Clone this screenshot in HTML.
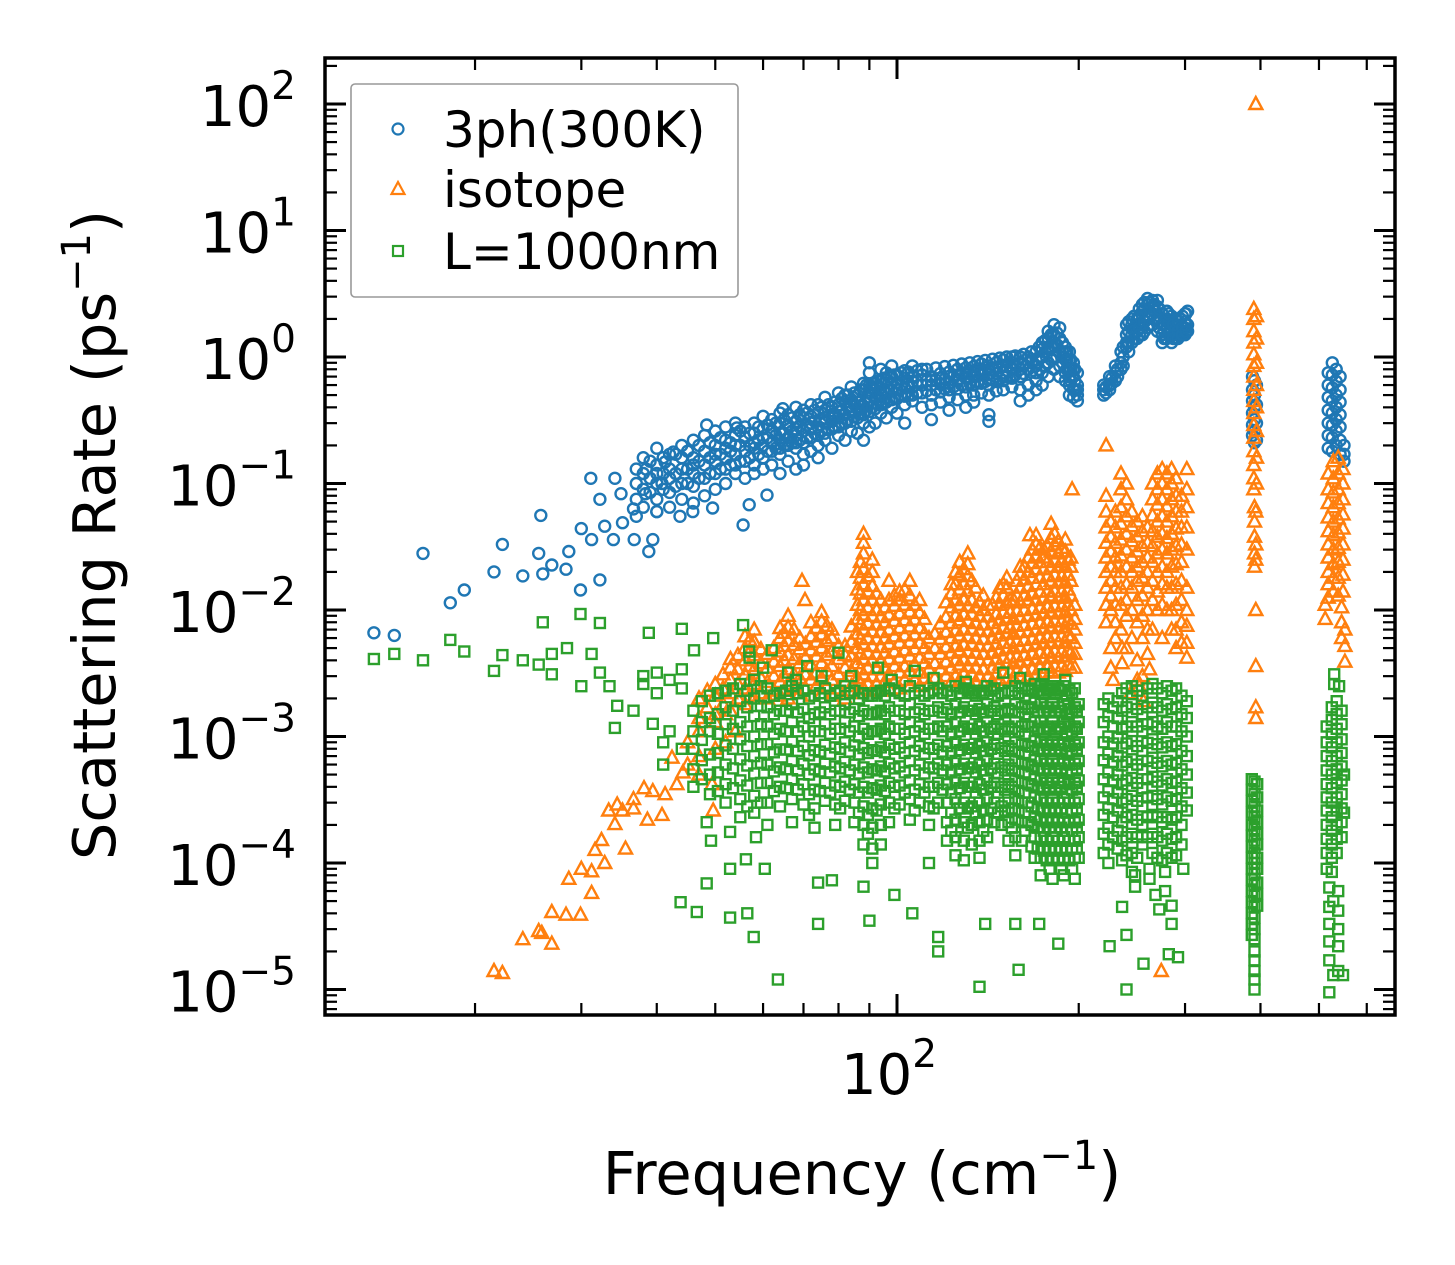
<!DOCTYPE html>
<html><head><meta charset="utf-8"><style>
html,body{margin:0;padding:0;background:#fff;}
svg{display:block;font-family:"DejaVu Sans","Liberation Sans",sans-serif;}
</style></head><body>
<svg id="chart" xmlns="http://www.w3.org/2000/svg" width="1455" height="1265" viewBox="0 0 1455 1265">
<rect width="1455" height="1265" fill="#fff"/>
<g id="marks"></g>
<g id="axes"></g>
<g id="legend">
<rect x="351" y="84" width="387" height="213" rx="4" fill="#fff" fill-opacity="0.8" stroke="#999" stroke-width="1.6"/>
<circle cx="398" cy="129" r="5.5" fill="none" stroke="#1f77b4" stroke-width="2.2"/>
<text x="443" y="147" font-size="50">3ph(300K)</text>
<polygon points="398,182 391.5,194 404.5,194" fill="none" stroke="#ff7f0e" stroke-width="2.2"/>
<text x="443" y="207" font-size="50">isotope</text>
<rect x="393" y="246" width="10" height="10" fill="none" stroke="#2ca02c" stroke-width="2.2"/>
<text x="443" y="269" font-size="50">L=1000nm</text>
</g>
<text x="862" y="1194" font-size="59" text-anchor="middle">Frequency (cm<tspan dy="-25" font-size="40">−1</tspan><tspan dy="25">)</tspan></text>
<text transform="translate(115,535) rotate(-90)" font-size="59" text-anchor="middle">Scattering Rate (ps<tspan dy="-25" font-size="40">−1</tspan><tspan dy="25">)</tspan></text>
</svg>
<script>
// ---- data (frequency cm^-1, then rates ps^-1) ----
const phSparse=[[13.6,6.6e-3],[14.7,6.3e-3],[16.4,2.8e-2],[18.2,1.14e-2],[19.2,1.44e-2],[21.5,2.0e-2],[22.2,3.3e-2],[24.0,1.86e-2],[25.5,2.8e-2],[25.7,5.6e-2],[25.9,1.93e-2],[26.8,2.27e-2],[28.3,2.1e-2],[28.6,2.9e-2],[29.9,1.44e-2],[30.0,4.4e-2],[31.1,0.11],[31.2,3.6e-2],[32.2,1.73e-2,7.5e-2],[32.8,4.6e-2],[33.9,3.6e-2],[34.1,0.11],[34.9,8.3e-2],[35.1,4.9e-2],[36.7,3.6e-2],[36.6,6.3e-2],[38.4,0.13],[38.8,2.9e-2],[39.4,3.6e-2],[38.3,8.3e-2],[40.0,6e-2],[40.8,0.1],[41.3,0.148],[42.6,0.177],[43.7,5.5e-2],[45.9,6e-2],[48.4,0.29],[49.5,6.4e-2],[54.3,0.275],[55.6,4.7e-2],[56.9,6.8e-2],[60.9,8.1e-2],[64.7,0.39]];
const phBand=[[37,0.1,0.075,0.13,0.055],[38,0.12,0.09,0.16,0.065],[40,0.1,0.14,0.075,0.19,0.12,0.06],[42,0.11,0.17,0.085,0.13,0.065],[44,0.13,0.1,0.2,0.16,0.075],[46,0.12,0.16,0.095,0.22,0.14,0.07],[48,0.14,0.18,0.11,0.24,0.08],[50,0.15,0.2,0.12,0.26,0.17,0.09],[52,0.16,0.13,0.22,0.19,0.1,0.28],[54,0.17,0.14,0.24,0.2,0.12,0.3],[56,0.18,0.15,0.23,0.28,0.11],[58,0.19,0.25,0.14,0.21,0.3,0.12],[60,0.2,0.16,0.27,0.23,0.13,0.34],[62,0.21,0.18,0.26,0.32,0.14],[64,0.22,0.3,0.17,0.25,0.19,0.12,0.36],[66,0.23,0.2,0.29,0.35,0.15],[68,0.24,0.31,0.19,0.27,0.21,0.13,0.4],[70,0.26,0.21,0.33,0.38,0.17,0.14],[72,0.27,0.23,0.34,0.3,0.18,0.42],[74,0.28,0.24,0.36,0.42,0.2,0.16],[76,0.3,0.25,0.38,0.22,0.33,0.48],[78,0.31,0.27,0.4,0.35,0.19],[80,0.33,0.28,0.42,0.37,0.24,0.52],[82,0.35,0.3,0.44,0.5,0.22],[84,0.37,0.31,0.46,0.26,0.41,0.58],[86,0.39,0.33,0.5,0.44,0.25],[88,0.41,0.35,0.55,0.3,0.62,0.22],[90,0.45,0.37,0.6,0.9,0.52,0.28,0.75],[92,0.47,0.39,0.62,0.55,0.3],[94,0.5,0.42,0.64,0.36,0.57,0.8],[96,0.52,0.44,0.66,0.75,0.33],[98,0.54,0.46,0.7,0.4,0.62,0.85],[100,0.55,0.47,0.72,0.63,0.36],[103,0.57,0.49,0.68,0.78,0.42,0.3],[106,0.58,0.5,0.7,0.45,0.64,0.85],[110,0.6,0.52,0.72,0.8,0.4],[114,0.6,0.5,0.7,0.42,0.65,0.32],[118,0.61,0.53,0.74,0.68,0.44],[122,0.62,0.55,0.76,0.48,0.7,0.38],[126,0.65,0.56,0.8,0.72,0.46],[130,0.68,0.58,0.82,0.75,0.5,0.4],[134,0.7,0.6,0.84,0.5,0.77,0.44],[138,0.72,0.62,0.88,0.8,0.52],[142,0.73,0.6,0.85,0.31,0.35,0.66,0.5],[146,0.74,0.64,0.9,0.82,0.54],[150,0.75,0.65,0.95,0.7,0.86,0.55],[155,0.8,0.68,1.0,0.9,0.58],[160,0.7,0.55,0.9,0.45,0.8,1.0],[165,0.8,0.6,1.0,0.9,0.5],[170,0.85,0.65,1.1,0.75,0.95,0.55],[174,1.0,0.75,1.3,0.6,1.15],[178,1.2,0.9,1.6,0.7,1.4],[182,1.3,1.0,1.8,0.8,1.5],[186,1.1,0.85,1.4,0.7,1.7],[190,0.95,0.75,1.2,0.65,1.1],[193,0.8,0.7,1.1,0.6,0.95,0.5],[196,0.7,0.55,0.9,0.8,0.48],[199,0.6,0.5,0.75,0.45,0.55]];
const phBand2=[[39,0.11,0.085,0.15],[41,0.12,0.09,0.16],[43,0.12,0.095,0.17],[45,0.13,0.1,0.18],[47,0.15,0.11,0.2],[49,0.16,0.12,0.21],[51,0.17,0.13,0.23],[53,0.18,0.14,0.21],[55,0.2,0.15,0.26],[57,0.2,0.16,0.25],[59,0.22,0.17,0.28],[61,0.23,0.18,0.29],[63,0.24,0.19,0.3],[65,0.25,0.2,0.32],[67,0.26,0.21,0.33],[69,0.28,0.22,0.35],[71,0.29,0.23,0.36],[73,0.31,0.25,0.38],[75,0.32,0.26,0.4],[77,0.34,0.27,0.42],[79,0.35,0.28,0.44],[81,0.38,0.3,0.47],[83,0.4,0.32,0.5],[85,0.42,0.34,0.52],[87,0.44,0.36,0.55],[89,0.48,0.38,0.6],[91,0.5,0.4,0.62],[93,0.52,0.42,0.65],[95,0.55,0.44,0.68],[97,0.57,0.46,0.7],[99,0.58,0.48,0.72],[101.5,0.6,0.5,0.75],[104.5,0.62,0.5,0.76],[108,0.64,0.52,0.78],[112,0.65,0.54,0.8],[116,0.66,0.55,0.82],[120,0.67,0.56,0.84],[124,0.7,0.58,0.86],[128,0.72,0.6,0.88],[132,0.74,0.62,0.9],[136,0.76,0.63,0.92],[140,0.78,0.64,0.94],[144,0.8,0.66,0.96],[148,0.82,0.68,0.98],[152,0.84,0.7,1.0],[157,0.86,0.72,1.02],[162,0.88,0.74,1.05],[167,0.92,0.76,1.1],[172,1.0,0.8,1.2],[176,1.1,0.85,1.35],[180,1.2,0.95,1.5],[184,1.25,1.0,1.55],[188,1.1,0.9,1.3],[191,0.95,0.8,1.1],[194,0.8,0.65,0.95],[197,0.65,0.55,0.8]];
const phCluster2=[[220,0.55,0.6,0.5],[225,0.6,0.7,0.55],[230,0.65,0.75,0.85],[235,0.9,1.1,0.8],[240,1.2,1.5,1.8,1.3],[245,1.5,1.8,1.3,2.0],[250,1.6,2.0,1.4,1.8],[255,1.8,2.3,1.5,2.6],[260,2.0,2.6,1.7,2.9],[265,2.2,2.8,1.8,2.5],[270,2.0,2.5,1.6,2.8],[275,1.8,2.2,1.5,1.3],[280,1.7,2.0,1.4,2.3],[285,1.6,1.9,1.3,2.1],[290,1.5,1.8,1.4,2.0],[295,1.6,2.0,1.5],[300,1.7,2.2,1.5,1.9],[303,1.8,2.3,1.6]];
const phCluster2b=[[222,0.52,0.58],[227,0.62,0.68],[232,0.7,0.8],[237,1.0,1.2,0.85],[242,1.3,1.6,1.1,1.9],[247,1.4,1.7,2.1,1.6],[252,1.7,2.1,1.5,2.4],[257,1.9,2.4,1.6,2.7],[262,2.1,2.7,1.8],[267,2.3,2.0,2.6],[272,1.9,2.4,1.7],[277,1.6,2.0,1.4],[282,1.6,1.9,1.5,2.2],[287,1.5,1.8,1.4],[292,1.6,1.9,1.4],[297,1.7,2.1,1.5],[301,1.8,2.2,1.6]];
const phCol390=[[388,0.7,0.55,0.45,0.36,0.29,0.24],[391,0.65,0.5,0.4,0.32,0.26,0.21],[394,0.6,0.42,0.3,0.22]];
const phCol530=[[518,0.75,0.6,0.48,0.38,0.3,0.24,0.19],[526,0.9,0.72,0.57,0.45,0.36,0.29,0.23,0.18],[534,0.8,0.64,0.5,0.4,0.32,0.26,0.2],[542,0.7,0.55,0.44,0.35,0.28,0.22,0.17],[550,0.2,0.17,0.15]];

const isoSparse=[[21.5,1.4e-5],[22.2,1.35e-5],[24.0,2.5e-5],[25.5,2.9e-5],[25.8,2.8e-5],[26.8,2.3e-5,4.1e-5],[28.3,3.9e-5],[29.9,3.9e-5],[28.6,7.5e-5],[30.0,9e-5],[31.2,8.6e-5,5.8e-5],[32.8,1e-4],[31.6,1.27e-4],[32.4,1.52e-4],[35.5,1.3e-4],[34.1,2.03e-4],[33.3,2.6e-4],[34.4,2.9e-4],[35.1,2.6e-4],[36.6,3.2e-4,2.7e-4],[38.1,3.9e-4],[39.4,3.7e-4],[38.6,2.2e-4],[40.8,2.4e-4],[41.3,3.5e-4],[42.4,6.8e-4],[43.2,4.2e-4],[44.2,5.2e-4],[49.4,4.2e-4],[49.6,2.6e-4],[45,6e-4,9e-4],[47,7e-4,1.1e-3,5e-4],[50,8e-4,1.3e-3],[52,9e-4,1.5e-3],[54,1.1e-3],[69.6,1.7e-2],[70.4,1.2e-2],[166,3.9e-2],[195,9e-2],[197,1.1e-2,8.5e-3,7e-3,5.5e-3,4.5e-3,3.5e-3]];
const isoTrees=[[47,1.4e-3,2e-3],[50,1.5e-3,2.1e-3,2.6e-3],[53,1.6e-3,2.2e-3,2.8e-3,3.5e-3,4.1e-3],[56,1.8e-3,2.4e-3,3.1e-3,4e-3,5e-3,6.2e-3],[58,2e-3,2.6e-3,3.4e-3,4.4e-3,5.6e-3,7e-3],[61,2e-3,2.7e-3,3.5e-3,4.5e-3],[64,2.1e-3,2.7e-3,3.6e-3,4.7e-3,6e-3,7.2e-3],[66,2e-3,2.6e-3,3.4e-3,4.4e-3,5.7e-3,7.3e-3,9e-3],[69,2.2e-3,2.9e-3,3.8e-3,4.9e-3,6e-3],[72,2.1e-3,2.8e-3,3.7e-3,4.8e-3,6.2e-3,8e-3],[75,2.2e-3,2.9e-3,3.8e-3,5e-3,6.4e-3,8.1e-3,9.6e-3],[78,2.1e-3,2.8e-3,3.6e-3,4.7e-3,6e-3,7e-3],[82,2e-3,2.7e-3,3.5e-3,4.4e-3,5.2e-3],[86,2.2e-3,2.9e-3,3.8e-3,5e-3,6.5e-3,8.5e-3,1.1e-2,1.45e-2,2e-2],[88,2.4e-3,3.1e-3,4.1e-3,5.4e-3,7e-3,9.2e-3,1.2e-2,1.6e-2,2.1e-2,2.8e-2,3.4e-2,4e-2],[91,2.3e-3,3e-3,4e-3,5.2e-3,6.8e-3,9e-3,1.2e-2,1.55e-2,2e-2,2.5e-2],[94,2.3e-3,3e-3,3.9e-3,5.1e-3,6.7e-3,8.8e-3,1.2e-2],[97,2.4e-3,3.1e-3,4.1e-3,5.4e-3,7e-3,9.2e-3,1.2e-2,1.7e-2],[101,2.4e-3,3.2e-3,4.2e-3,5.5e-3,7.2e-3,9.4e-3,1.2e-2,1.4e-2],[105,2.5e-3,3.3e-3,4.3e-3,5.6e-3,7.4e-3,9.7e-3,1.3e-2,1.7e-2],[109,2.5e-3,3.2e-3,4.2e-3,5.5e-3,7.2e-3,9.5e-3,1.2e-2],[113,2.6e-3,3.4e-3,4.5e-3,6e-3],[118,2.6e-3,3.4e-3,4.5e-3,5.9e-3,7.8e-3],[123,2.7e-3,3.5e-3,4.6e-3,6e-3,7.9e-3,1.05e-2,1.35e-2,1.6e-2],[127,2.8e-3,3.7e-3,4.8e-3,6.3e-3,8.3e-3,1.1e-2,1.45e-2,1.9e-2,2.4e-2],[131,2.8e-3,3.6e-3,4.7e-3,6.2e-3,8.2e-3,1.08e-2,1.42e-2,1.85e-2,2.3e-2,2.8e-2],[135,2.7e-3,3.5e-3,4.6e-3,6e-3,7.9e-3,1.05e-2,1.5e-2],[139,2.6e-3,3.4e-3,4.5e-3,5.9e-3,7.7e-3,1e-2,1.3e-2],[144,2.7e-3,3.5e-3,4.6e-3,6e-3,7.9e-3,1.1e-2],[148,2.8e-3,3.7e-3,4.8e-3,6.3e-3,8.3e-3,1.1e-2,1.5e-2],[152,2.9e-3,3.8e-3,5e-3,6.6e-3,8.7e-3,1.15e-2,1.5e-2,1.8e-2],[156,2.9e-3,3.8e-3,5e-3,6.5e-3,8.5e-3,1.2e-2],[160,3e-3,3.9e-3,5.1e-3,6.7e-3,8.8e-3,1.15e-2,1.5e-2,1.9e-2,2.2e-2],[165,3e-3,4e-3,5.2e-3,6.8e-3,9e-3,1.2e-2,1.55e-2,2e-2,2.6e-2],[170,3.1e-3,4.1e-3,5.4e-3,7e-3,9.2e-3,1.2e-2,1.6e-2,2.1e-2,2.7e-2,3.3e-2,3.9e-2],[175,3.2e-3,4.2e-3,5.5e-3,7.2e-3,9.5e-3,1.25e-2,1.6e-2,2.1e-2,2.6e-2,3e-2],[180,3.3e-3,4.3e-3,5.6e-3,7.4e-3,9.7e-3,1.3e-2,1.7e-2,2.2e-2,2.9e-2,3.7e-2,4.8e-2],[185,3.2e-3,4.2e-3,5.5e-3,7.2e-3,9.4e-3,1.25e-2,1.65e-2,2.2e-2,2.8e-2,3.5e-2],[190,3.3e-3,4.3e-3,5.6e-3,7.3e-3,9.6e-3,1.25e-2,1.65e-2,2.2e-2,2.9e-2,3.6e-2],[194,3.5e-3,4.6e-3,6e-3,7.8e-3,1e-2,1.3e-2,1.7e-2,2.2e-2,2.6e-2]];
const isoTrees2=[[48.5,1.7e-3,2.3e-3],[51.5,1.8e-3,2.4e-3,3.1e-3],[54.5,2e-3,2.6e-3,3.4e-3,4.4e-3],[57,2.1e-3,2.8e-3,3.6e-3,4.7e-3,5.8e-3],[59.5,2.2e-3,2.9e-3,3.8e-3,4.9e-3],[62.5,2.3e-3,3e-3,3.9e-3,5e-3],[65,2.3e-3,3e-3,4e-3,5.2e-3,6.6e-3],[67.5,2.4e-3,3.1e-3,4.1e-3,5.3e-3,7e-3],[70.5,2.4e-3,3.1e-3,4.2e-3,5.4e-3],[73.5,2.5e-3,3.2e-3,4.3e-3,5.6e-3,7.2e-3],[76.5,2.5e-3,3.3e-3,4.4e-3,5.7e-3,7.5e-3],[80,2.4e-3,3.1e-3,4.1e-3,5.2e-3],[84,2.5e-3,3.3e-3,4.3e-3,5.6e-3,7.4e-3],[87,2.6e-3,3.4e-3,4.5e-3,5.9e-3,7.7e-3,1e-2,1.35e-2,1.8e-2,2.4e-2],[89.5,2.6e-3,3.5e-3,4.6e-3,6e-3,7.9e-3,1.05e-2,1.4e-2,1.85e-2],[92.5,2.6e-3,3.4e-3,4.5e-3,5.9e-3,7.7e-3,1e-2,1.35e-2],[95.5,2.7e-3,3.5e-3,4.6e-3,6e-3,8e-3,1.05e-2],[99,2.7e-3,3.6e-3,4.7e-3,6.2e-3,8.2e-3,1.08e-2,1.3e-2],[103,2.8e-3,3.6e-3,4.8e-3,6.3e-3,8.3e-3,1.1e-2,1.45e-2],[107,2.8e-3,3.7e-3,4.9e-3,6.4e-3,8.4e-3,1.1e-2],[111,2.9e-3,3.8e-3,5e-3,6.5e-3,8.5e-3],[115.5,2.9e-3,3.8e-3,5e-3,6.5e-3],[120.5,3e-3,3.9e-3,5.1e-3,6.7e-3,8.8e-3,1.15e-2],[125,3e-3,4e-3,5.2e-3,6.9e-3,9e-3,1.2e-2,1.6e-2,2e-2],[129,3.1e-3,4e-3,5.3e-3,7e-3,9.2e-3,1.2e-2,1.6e-2,2.1e-2],[133,3.1e-3,4.1e-3,5.4e-3,7.1e-3,9.3e-3,1.2e-2,1.7e-2],[137,3e-3,4e-3,5.2e-3,6.9e-3,9e-3,1.15e-2],[141.5,3e-3,4e-3,5.2e-3,6.8e-3,8.9e-3,1.1e-2],[146,3.1e-3,4.1e-3,5.4e-3,7.1e-3,9.3e-3,1.25e-2],[150,3.2e-3,4.2e-3,5.5e-3,7.3e-3,9.6e-3,1.3e-2,1.6e-2],[154,3.2e-3,4.2e-3,5.5e-3,7.2e-3,9.5e-3,1.2e-2],[158,3.3e-3,4.3e-3,5.7e-3,7.5e-3,9.8e-3,1.3e-2,1.7e-2],[162.5,3.3e-3,4.4e-3,5.8e-3,7.6e-3,1e-2,1.3e-2,1.75e-2,2.2e-2],[167.5,3.4e-3,4.5e-3,5.9e-3,7.8e-3,1.02e-2,1.35e-2,1.8e-2,2.35e-2,3e-2],[172.5,3.5e-3,4.6e-3,6e-3,7.9e-3,1.04e-2,1.4e-2,1.8e-2,2.4e-2,3.1e-2],[177.5,3.5e-3,4.6e-3,6.1e-3,8e-3,1.05e-2,1.4e-2,1.85e-2,2.4e-2,3.2e-2],[182.5,3.6e-3,4.7e-3,6.2e-3,8.2e-3,1.08e-2,1.4e-2,1.9e-2,2.5e-2,3.3e-2,4e-2],[187.5,3.6e-3,4.7e-3,6.2e-3,8.1e-3,1.07e-2,1.4e-2,1.85e-2,2.4e-2,3.1e-2],[192,3.7e-3,4.8e-3,6.3e-3,8.3e-3,1.1e-2,1.45e-2,1.9e-2,2.5e-2]];
const isoCluster2=[[222,0.2,8e-2,6e-2,4.5e-2,3.4e-2,2.6e-2,2e-2,1.5e-2,1.1e-2,8e-3],[226,5e-2,3.8e-2,2.9e-2,2.2e-2,1.7e-2,1.3e-2,1e-2,5e-3,3.5e-3],[230,6e-2,4.5e-2,3.4e-2,2.6e-2,2e-2,1.5e-2,1.1e-2,8e-3,6e-3],[235,0.12,9e-2,6.5e-2,4.8e-2,3.6e-2,2.7e-2,2e-2,1.5e-2,1.1e-2,7e-3],[240,0.1,7.5e-2,5.5e-2,4e-2,3e-2,2.2e-2,1.6e-2,1.2e-2,9e-3,5e-3],[245,6e-2,4.6e-2,3.5e-2,2.6e-2,2e-2,1.5e-2,1e-2,6e-3],[250,5e-2,3.8e-2,2.9e-2,2.2e-2,1.7e-2,1.2e-2,8e-3,4e-3,2.8e-3],[255,5.5e-2,4.2e-2,3.2e-2,2.4e-2,1.8e-2,1.3e-2,9e-3,6e-3,3e-3],[260,4.5e-2,3.4e-2,2.6e-2,2e-2,1.5e-2,1e-2,7e-3,4.5e-3],[265,0.1,7.5e-2,5.6e-2,4.2e-2,3.2e-2,2.4e-2,1.7e-2,1.2e-2,7e-3],[270,0.12,9e-2,6.8e-2,5e-2,3.8e-2,2.8e-2,2e-2,1.4e-2,1e-2],[275,0.13,0.1,7.5e-2,5.5e-2,4e-2,3e-2,2.2e-2,1.6e-2,1.1e-2,6e-3],[280,0.12,9e-2,6.6e-2,5e-2,3.7e-2,2.8e-2,2e-2,1.5e-2,1e-2],[285,0.13,0.1,7.5e-2,5.5e-2,4e-2,3e-2,2.2e-2,1.5e-2,1e-2,7e-3],[290,0.11,8e-2,6e-2,4.4e-2,3.2e-2,2.3e-2,1.6e-2,1.1e-2,7e-3,5e-3],[296,8e-2,6e-2,4.5e-2,3.3e-2,2.4e-2,1.7e-2,1.2e-2,8e-3,5.5e-3],[302,0.13,9e-2,6.5e-2,4.5e-2,3e-2,1.5e-2,1e-2,7.5e-3,5.5e-3,4.2e-3],[228,2.8e-3],[236,5e-3,3.8e-3],[244,2.2e-3],[252,2.5e-3],[262,3.4e-3],[274,1.4e-5],[256,1.9e-3]];
const isoCol390=[[393,100],[390,2.4,2,1.6,1.3,1.05,0.85,0.7,0.55,0.45,0.36,0.29,0.23,0.18,0.14,0.11,0.09],[394,2.1,1.4,0.9,0.6,0.4,0.26,0.16,0.1],[391,6.5e-2,5e-2,3.8e-2,2.8e-2,2.2e-2],[393,6e-2,3.3e-2,2.5e-2,1e-2,3.6e-3,1.7e-3,1.4e-3]];
const isoCol530=[[518,0.12,9e-2,7e-2,5.4e-2,4.2e-2,3.3e-2,2.6e-2,2e-2,1.6e-2,1.25e-2],[528,0.15,0.11,8.5e-2,6.5e-2,5e-2,3.9e-2,3e-2,2.3e-2,1.8e-2,1.4e-2],[538,0.16,0.12,9e-2,7e-2,5.3e-2,4.1e-2,3.1e-2,2.4e-2,1.8e-2,1.3e-2],[548,0.13,0.1,7.5e-2,5.7e-2,4.4e-2,3.3e-2,2.5e-2,1.9e-2,1.4e-2],[512,1.1e-2,8.5e-3],[545,1.05e-2,8e-3,6e-3],[552,7e-3,5.2e-3,3.9e-3]];

const grSparse=[[13.6,4.1e-3],[14.7,4.5e-3],[16.4,4e-3],[18.2,5.8e-3],[19.2,4.7e-3],[21.5,3.3e-3],[22.2,4.4e-3],[24.0,4e-3],[25.9,8e-3],[25.5,3.7e-3],[26.8,4.5e-3,3.1e-3],[28.4,5e-3],[29.9,9.3e-3],[30.0,2.5e-3],[31.2,4.5e-3],[32.2,7.9e-3,3.2e-3],[33.4,2.5e-3],[34.4,1.75e-3],[34.1,1.17e-3],[36.6,1.6e-3],[38.8,6.6e-3],[39.4,1.26e-3],[44.0,7.1e-3],[46.1,4.8e-3],[49.6,6e-3],[55.6,7.6e-3],[56.9,4.7e-3],[48.4,6.9e-5,2.1e-4],[43.8,4.9e-5],[46.6,4.1e-5],[52.9,3.7e-5,9e-5,1.76e-4],[56.5,4e-5],[57.9,2.6e-5],[63.5,1.2e-5],[56.2,1.07e-4],[60.4,9e-5],[49.2,1.5e-4],[58.4,1.6e-4],[74,3.3e-5,7e-5],[90,3.5e-5],[117,2.6e-5,2e-5],[137,1.05e-5],[159,1.43e-5],[185,2.3e-5],[140,3.3e-5],[157,3.3e-5],[172,3.3e-5],[106,4e-5],[99,5.6e-5],[113,1e-4],[88,6.5e-5],[78,7.3e-5],[38,3e-3,2.6e-3],[40,3.2e-3,2.2e-3],[42,2.8e-3,1.1e-3],[44,3.4e-3,2.4e-3,8e-4],[41,6e-4,9e-4],[57,4.2e-3],[60,3.5e-3],[62,4.8e-3],[66,3.2e-3],[68,2.8e-3],[71,3.6e-3],[75,3e-3],[80,4.6e-3],[84,3e-3],[93,3.5e-3],[98,2.8e-3],[107,3.3e-3],[115,2.9e-3],[130,2.7e-3],[150,3.2e-3],[160,2.9e-3],[175,3.1e-3],[190,2.8e-3]];
const grDense=[[46,1.6e-3,1.1e-3,8e-4,5.5e-4,4e-4],[49,2.1e-3,1.4e-3,1.1e-3,7.2e-4,5e-4,3.5e-4],[52,2.3e-3,1.7e-3,1.25e-3,8.5e-4,6e-4,4.2e-4,3e-4],[55,2.6e-3,1.9e-3,1.3e-3,9.5e-4,6.6e-4,4.5e-4,3.2e-4,2.3e-4],[58,2.8e-3,2e-3,1.45e-3,1e-3,7e-4,5.1e-4,3.4e-4,2.5e-4],[61,2.4e-3,1.7e-3,1.2e-3,8.7e-4,6e-4,4.3e-4,3e-4,2e-4],[64,2.2e-3,1.6e-3,1.15e-3,7.9e-4,5.7e-4,4e-4,2.8e-4],[67,2.5e-3,1.8e-3,1.3e-3,9.1e-4,6.4e-4,4.6e-4,3.2e-4,2.1e-4],[70,2.3e-3,1.65e-3,1.2e-3,8.4e-4,6.1e-4,4.2e-4,2.9e-4],[73,2.1e-3,1.5e-3,1.1e-3,7.8e-4,5.5e-4,3.8e-4,2.7e-4,1.9e-4],[76,2.4e-3,1.7e-3,1.25e-3,8.6e-4,6.1e-4,4.3e-4,3.1e-4],[79,2.2e-3,1.6e-3,1.15e-3,8.2e-4,5.8e-4,4.1e-4,2.9e-4,2e-4],[82,2.5e-3,1.8e-3,1.3e-3,9e-4,6.3e-4,4.4e-4,3.1e-4],[85,2.3e-3,1.65e-3,1.2e-3,8.5e-4,6e-4,4.2e-4,3e-4,2.1e-4],[88,2.2e-3,1.6e-3,1.15e-3,8.1e-4,5.7e-4,4e-4,2.8e-4,2e-4,1.4e-4],[91,2.1e-3,1.5e-3,1.1e-3,7.8e-4,5.5e-4,3.9e-4,2.7e-4,1.9e-4,1.3e-4,1e-4],[94,2.3e-3,1.6e-3,1.15e-3,8.2e-4,5.8e-4,4.1e-4,2.9e-4,2e-4,1.4e-4],[97,2.4e-3,1.7e-3,1.2e-3,8.6e-4,6.1e-4,4.3e-4,3e-4,2.1e-4],[101,2.2e-3,1.6e-3,1.15e-3,8.2e-4,5.8e-4,4.1e-4,2.9e-4],[105,2.5e-3,1.8e-3,1.3e-3,9e-4,6.4e-4,4.5e-4,3.2e-4,2.2e-4],[109,2.3e-3,1.65e-3,1.2e-3,8.4e-4,6e-4,4.2e-4,3e-4],[113,2.2e-3,1.6e-3,1.15e-3,8.1e-4,5.7e-4,4e-4,2.8e-4,2e-4],[117,2.4e-3,1.7e-3,1.2e-3,8.6e-4,6.1e-4,4.3e-4,3e-4],[121,2.3e-3,1.65e-3,1.2e-3,8.4e-4,6e-4,4.2e-4,3e-4,2.1e-4,1.5e-4],[125,2.5e-3,1.8e-3,1.3e-3,9e-4,6.4e-4,4.5e-4,3.2e-4,2.2e-4,1.6e-4,1.15e-4],[129,2.4e-3,1.7e-3,1.2e-3,8.6e-4,6.1e-4,4.3e-4,3e-4,2.1e-4,1.5e-4,1.05e-4],[133,2.2e-3,1.6e-3,1.15e-3,8.1e-4,5.7e-4,4e-4,2.8e-4,2e-4,1.4e-4],[137,2.3e-3,1.65e-3,1.2e-3,8.4e-4,6e-4,4.2e-4,3e-4,2.1e-4,1.5e-4,1.1e-4],[141,2.5e-3,1.8e-3,1.3e-3,9e-4,6.4e-4,4.5e-4,3.2e-4,2.2e-4,1.6e-4],[145,2.4e-3,1.7e-3,1.2e-3,8.6e-4,6.1e-4,4.3e-4,3e-4,2.1e-4],[149,2.2e-3,1.6e-3,1.15e-3,8.1e-4,5.7e-4,4e-4,2.8e-4,2e-4],[153,2.3e-3,1.65e-3,1.2e-3,8.4e-4,6e-4,4.2e-4,3e-4,2.1e-4,1.5e-4],[157,2.5e-3,1.8e-3,1.3e-3,9e-4,6.4e-4,4.5e-4,3.2e-4,2.2e-4,1.6e-4,1.15e-4],[161,2.4e-3,1.7e-3,1.2e-3,8.6e-4,6.1e-4,4.3e-4,3e-4,2.1e-4,1.5e-4],[165,2.3e-3,1.65e-3,1.2e-3,8.4e-4,6e-4,4.2e-4,3e-4,2.1e-4],[169,2.6e-3,1.85e-3,1.3e-3,9.2e-4,6.5e-4,4.6e-4,3.3e-4,2.3e-4,1.6e-4,1.1e-4],[173,2.5e-3,1.8e-3,1.3e-3,9e-4,6.4e-4,4.5e-4,3.2e-4,2.2e-4,1.6e-4,1.1e-4,8e-5],[177,2.4e-3,1.7e-3,1.2e-3,8.6e-4,6.1e-4,4.3e-4,3e-4,2.1e-4,1.5e-4,1.05e-4],[181,2.5e-3,1.8e-3,1.3e-3,9e-4,6.4e-4,4.5e-4,3.2e-4,2.2e-4,1.6e-4,1.1e-4,7.5e-5],[185,2.4e-3,1.7e-3,1.2e-3,8.6e-4,6.1e-4,4.3e-4,3e-4,2.1e-4,1.5e-4,1.05e-4],[189,2.5e-3,1.8e-3,1.3e-3,9e-4,6.4e-4,4.5e-4,3.2e-4,2.2e-4,1.6e-4,1.1e-4,8e-5],[193,2.3e-3,1.65e-3,1.2e-3,8.4e-4,6e-4,4.2e-4,3e-4,2.1e-4,1.5e-4,1.05e-4],[197,2.4e-3,1.7e-3,1.2e-3,8.6e-4,6.1e-4,4.3e-4,3e-4,2.1e-4,1.5e-4,1.1e-4,7.5e-5],[200,1.8e-3,1.3e-3,9e-4,6.4e-4,4.5e-4,3.2e-4,2.2e-4,1.6e-4,1.1e-4]];
const grDense2=[[47.5,1.9e-3,1.3e-3,9.4e-4,6.5e-4,4.6e-4],[50.5,2.2e-3,1.5e-3,1.05e-3,7.4e-4,5.2e-4,3.7e-4],[53.5,2.4e-3,1.6e-3,1.15e-3,8e-4,5.6e-4,3.9e-4],[56.5,2.3e-3,1.7e-3,1.2e-3,8.4e-4,5.9e-4,4.1e-4,2.8e-4],[59.5,2.5e-3,1.75e-3,1.25e-3,8.7e-4,6.2e-4,4.3e-4,3e-4],[62.5,2.1e-3,1.5e-3,1.05e-3,7.5e-4,5.3e-4,3.7e-4],[65.5,2.3e-3,1.6e-3,1.1e-3,7.9e-4,5.5e-4,3.9e-4],[68.5,2.2e-3,1.55e-3,1.1e-3,7.7e-4,5.4e-4,3.8e-4],[71.5,2e-3,1.4e-3,1e-3,7.1e-4,5e-4,3.5e-4,2.4e-4],[74.5,2.2e-3,1.55e-3,1.1e-3,7.6e-4,5.3e-4,3.7e-4],[77.5,2.1e-3,1.5e-3,1.05e-3,7.3e-4,5.2e-4,3.6e-4],[80.5,2.3e-3,1.6e-3,1.15e-3,8e-4,5.6e-4,4e-4,2.7e-4],[83.5,2.2e-3,1.55e-3,1.1e-3,7.6e-4,5.4e-4,3.8e-4],[86.5,2e-3,1.45e-3,1e-3,7.2e-4,5.1e-4,3.6e-4,2.5e-4],[89.5,2.1e-3,1.5e-3,1.05e-3,7.4e-4,5.2e-4,3.6e-4,2.4e-4,1.7e-4],[92.5,2.2e-3,1.55e-3,1.1e-3,7.7e-4,5.4e-4,3.8e-4,2.6e-4],[95.5,2.1e-3,1.5e-3,1.05e-3,7.5e-4,5.3e-4,3.7e-4],[99,2.3e-3,1.6e-3,1.15e-3,8e-4,5.6e-4,4e-4,2.7e-4],[103,2.1e-3,1.5e-3,1.05e-3,7.4e-4,5.2e-4,3.6e-4],[107,2.2e-3,1.55e-3,1.1e-3,7.7e-4,5.4e-4,3.8e-4,2.6e-4],[111,2.1e-3,1.5e-3,1.05e-3,7.3e-4,5.1e-4,3.6e-4],[115,2.3e-3,1.6e-3,1.15e-3,8e-4,5.6e-4,4e-4,2.7e-4],[119,2.2e-3,1.55e-3,1.1e-3,7.6e-4,5.4e-4,3.8e-4],[123,2.1e-3,1.5e-3,1.05e-3,7.4e-4,5.2e-4,3.6e-4,2.5e-4,1.8e-4],[127,2.2e-3,1.55e-3,1.1e-3,7.8e-4,5.5e-4,3.9e-4,2.7e-4],[131,2.3e-3,1.6e-3,1.15e-3,8e-4,5.6e-4,4e-4,2.7e-4,1.9e-4],[135,2.1e-3,1.5e-3,1.05e-3,7.4e-4,5.2e-4,3.6e-4,2.5e-4],[139,2.2e-3,1.55e-3,1.1e-3,7.7e-4,5.4e-4,3.8e-4,2.6e-4,1.8e-4],[143,2.3e-3,1.6e-3,1.15e-3,8e-4,5.6e-4,4e-4,2.7e-4],[147,2.1e-3,1.5e-3,1.05e-3,7.3e-4,5.1e-4,3.6e-4,2.5e-4],[151,2.2e-3,1.55e-3,1.1e-3,7.7e-4,5.4e-4,3.8e-4,2.6e-4],[155,2.3e-3,1.6e-3,1.15e-3,8e-4,5.6e-4,4e-4,2.7e-4,1.9e-4],[159,2.2e-3,1.55e-3,1.1e-3,7.6e-4,5.3e-4,3.7e-4,2.6e-4],[163,2.1e-3,1.5e-3,1.05e-3,7.4e-4,5.2e-4,3.6e-4,2.5e-4,1.8e-4],[167,2.4e-3,1.7e-3,1.2e-3,8.3e-4,5.8e-4,4.1e-4,2.8e-4,2e-4,1.35e-4],[171,2.3e-3,1.6e-3,1.15e-3,8e-4,5.6e-4,4e-4,2.7e-4,1.9e-4,1.3e-4],[175,2.2e-3,1.55e-3,1.1e-3,7.7e-4,5.4e-4,3.8e-4,2.6e-4,1.8e-4,1.25e-4],[179,2.3e-3,1.6e-3,1.15e-3,8e-4,5.6e-4,4e-4,2.7e-4,1.9e-4,1.3e-4,9e-5],[183,2.2e-3,1.55e-3,1.1e-3,7.7e-4,5.4e-4,3.8e-4,2.6e-4,1.8e-4,1.25e-4],[187,2.3e-3,1.6e-3,1.15e-3,8e-4,5.6e-4,4e-4,2.7e-4,1.9e-4,1.3e-4,9e-5],[191,2.1e-3,1.5e-3,1.05e-3,7.4e-4,5.2e-4,3.6e-4,2.5e-4,1.8e-4,1.25e-4],[195,2.2e-3,1.55e-3,1.1e-3,7.7e-4,5.4e-4,3.8e-4,2.6e-4,1.8e-4,1.3e-4,9e-5],[198.5,1.6e-3,1.15e-3,8e-4,5.6e-4,4e-4,2.7e-4,1.9e-4,1.3e-4]];
const grCluster2=[[220,1.8e-3,1.3e-3,9e-4,6.5e-4,4.6e-4,3.3e-4,2.4e-4,1.7e-4,1.2e-4],[224,2e-3,1.45e-3,1e-3,7.3e-4,5.2e-4,3.7e-4,2.7e-4,1.9e-4,1.4e-4,1e-4],[228,1.7e-3,1.2e-3,8.8e-4,6.3e-4,4.5e-4,3.2e-4,2.3e-4,1.6e-4],[232,1.9e-3,1.4e-3,9.8e-4,7e-4,5e-4,3.6e-4,2.6e-4,1.8e-4,1.3e-4],[236,2.2e-3,1.6e-3,1.15e-3,8.2e-4,5.9e-4,4.2e-4,3e-4,2.1e-4,1.5e-4,1.05e-4],[240,2.4e-3,1.7e-3,1.2e-3,8.8e-4,6.3e-4,4.5e-4,3.2e-4,2.3e-4,1.6e-4,1.15e-4],[245,2.5e-3,1.8e-3,1.3e-3,9.2e-4,6.6e-4,4.7e-4,3.4e-4,2.4e-4,1.7e-4,1.2e-4,8.5e-5],[250,2.3e-3,1.65e-3,1.2e-3,8.4e-4,6e-4,4.3e-4,3.1e-4,2.2e-4,1.6e-4,1.1e-4],[255,2.1e-3,1.5e-3,1.1e-3,7.7e-4,5.5e-4,3.9e-4,2.8e-4,2e-4,1.4e-4],[260,2.4e-3,1.7e-3,1.25e-3,8.9e-4,6.4e-4,4.6e-4,3.3e-4,2.3e-4,1.6e-4],[265,2.6e-3,1.85e-3,1.3e-3,9.5e-4,6.8e-4,4.8e-4,3.4e-4,2.4e-4,1.7e-4,1.2e-4],[270,2.4e-3,1.7e-3,1.2e-3,8.7e-4,6.2e-4,4.4e-4,3.2e-4,2.3e-4,1.6e-4,1.1e-4],[275,2.2e-3,1.6e-3,1.15e-3,8.2e-4,5.8e-4,4.1e-4,2.9e-4,2.1e-4,1.5e-4,1.05e-4],[280,2.5e-3,1.8e-3,1.3e-3,9e-4,6.4e-4,4.6e-4,3.3e-4,2.3e-4,1.7e-4,1.2e-4],[285,2.3e-3,1.65e-3,1.2e-3,8.4e-4,6e-4,4.3e-4,3.1e-4,2.2e-4,1.55e-4,1.1e-4],[290,2.4e-3,1.7e-3,1.2e-3,8.7e-4,6.2e-4,4.4e-4,3.2e-4,2.3e-4,1.6e-4,1.15e-4],[296,2.1e-3,1.5e-3,1.1e-3,7.7e-4,5.5e-4,3.9e-4,2.8e-4,2e-4,1.4e-4],[302,1.9e-3,1.4e-3,1e-3,7e-4,5e-4,3.6e-4,2.6e-4],[225,2.2e-5],[240,2.7e-5,1e-5],[256,1.6e-5],[268,5.6e-5],[272,4.3e-5],[285,4.6e-5,3.3e-5],[282,1.9e-5],[292,1.8e-5],[236,4.5e-5],[248,8e-5,6.5e-5],[262,9e-5,7.5e-5],[278,8.5e-5,6e-5],[298,9e-5]];
const grCol390=[[387,4.6e-4,3.8e-4,3.1e-4,2.5e-4,2e-4,1.65e-4,1.35e-4,1.1e-4,9e-5,7.4e-5,6e-5,4.9e-5,4e-5,3.3e-5,2.7e-5],[391,4.4e-4,3.5e-4,2.8e-4,2.3e-4,1.85e-4,1.5e-4,1.2e-4,1e-4,8.2e-5,6.7e-5,5.5e-5,4.5e-5,3.7e-5,3e-5,2.5e-5,2e-5,1.7e-5,1.4e-5,1.2e-5,1e-5],[395,4.2e-4,3.3e-4,2.6e-4,2.1e-4,1.7e-4,1.4e-4,1.1e-4,9e-5,7e-5,5.7e-5,4.6e-5]];
const grCol530=[[515,1.2e-3,9e-4,7e-4,5.4e-4,4.2e-4,3.3e-4,2.6e-4,2e-4,1.55e-4,1.2e-4,9e-5],[525,1.7e-3,1.35e-3,1.05e-3,8.2e-4,6.4e-4,5e-4,3.9e-4,3e-4,2.3e-4,1.8e-4,1.4e-4,1.1e-4,8.5e-5],[535,1.9e-3,1.5e-3,1.15e-3,9e-4,7e-4,5.5e-4,4.3e-4,3.3e-4,2.6e-4,2e-4,1.55e-4,1.2e-4],[545,1.6e-3,1.25e-3,9.5e-4,7.4e-4,5.8e-4,4.5e-4,3.5e-4,2.7e-4,2.1e-4,1.6e-4],[530,3.1e-3,2.6e-3],[540,2.5e-3],[550,5e-4,2.5e-4],[520,6.4e-5,4.5e-5,3.3e-5,2.4e-5,1.7e-5,9.5e-6],[538,6e-5,4.2e-5,3e-5,2.2e-5,1.4e-5],[528,5e-5,1.3e-5],[548,1.3e-5]];

const yTickExps=[-5,-4,-3,-2,-1,0,1,2];
const xMajorTicks=[100];
const xMinorTicks=[20,30,40,50,60,70,80,90,200,300,400,500,600];

// ---- axis functions ----
const PL=325,PR=1395,PT=58,PB=1015;
function xs(f){return 897+603.7*(Math.log10(f)-2);}
function ys(r){return 357-126.5*Math.log10(r);}

const NS='http://www.w3.org/2000/svg';
const marks=document.getElementById('marks');
const axes=document.getElementById('axes');
function mk(tag,attrs,parent){const e=document.createElementNS(NS,tag);for(const k in attrs)e.setAttribute(k,attrs[k]);parent.appendChild(e);return e;}

const clip=mk('clipPath',{id:'pc'},marks);
mk('rect',{x:PL,y:PT,width:PR-PL,height:PB-PT},clip);
const gB=mk('g',{'clip-path':'url(#pc)'},marks);


const gO=mk('g',{'clip-path':'url(#pc)'},marks);


const gG=mk('g',{'clip-path':'url(#pc)'},marks);



const SW=2.4;
function drawCircle(f,r){const x=xs(f),y=ys(r);
  const e=mk('circle',{cx:x.toFixed(1),cy:y.toFixed(1),r:5.5,fill:'none',stroke:'#1f77b4','stroke-width':SW},gB);
  
  }
function drawTri(f,r){const x=xs(f),y=ys(r);
  const e=mk('polygon',{points:`${x.toFixed(1)},${(y-7).toFixed(1)} ${(x-6.5).toFixed(1)},${(y+5).toFixed(1)} ${(x+6.5).toFixed(1)},${(y+5).toFixed(1)}`,fill:'none',stroke:'#ff7f0e','stroke-width':SW},gO);
  
  }
function drawSq(f,r){const x=xs(f),y=ys(r);
  const e=mk('rect',{x:(x-5).toFixed(1),y:(y-5).toFixed(1),width:10,height:10,fill:'none',stroke:'#2ca02c','stroke-width':SW},gG);
  
  }
function drawRows(rows,fn){rows.forEach(row=>{for(let i=1;i<row.length;i++)fn(row[0],row[i]);});}

[phSparse,phBand,phBand2,phCluster2,phCluster2b,phCol390,phCol530].forEach(a=>drawRows(a,drawCircle));
[isoSparse,isoTrees,isoTrees2,isoCluster2,isoCol390,isoCol530].forEach(a=>drawRows(a,drawTri));
[grSparse,grDense,grDense2,grCluster2,grCol390,grCol530].forEach(a=>drawRows(a,drawSq));

// ---- axes ----
const frame=mk('rect',{x:PL,y:PT,width:PR-PL,height:PB-PT,fill:'none',stroke:'#000','stroke-width':3.5},axes);


function tick(x1,y1,x2,y2,w,name){const t=mk('line',{x1,y1,x2,y2,stroke:'#000','stroke-width':w},axes);
  
  }
yTickExps.forEach(k=>{
  const y=ys(Math.pow(10,k));
  tick(PL,y,PL+21,y,3,'y-major-tick');
  tick(PR,y,PR-21,y,3,'y-major-tick');
  const t=mk('text',{x:296,y:(y+22).toFixed(1),'font-size':56,'text-anchor':'end'},axes);
  
  
  t.textContent='10';
  const s=mk('tspan',{dy:-27,'font-size':39},t);
  s.textContent=(k<0?'\u2212':'')+Math.abs(k);
  for(let m=2;m<=9;m++){
    const ym=ys(m*Math.pow(10,k));
    if(ym<PT||ym>PB)continue;
    tick(PL,ym,PL+12,ym,2.2,'y-minor-tick');
    tick(PR,ym,PR-12,ym,2.2,'y-minor-tick');
  }
});
for(let m=6;m<=9;m++){const ym=ys(m*1e-6);if(ym<PB){tick(PL,ym,PL+12,ym,2.2,'y-minor-tick');tick(PR,ym,PR-12,ym,2.2,'y-minor-tick');}}
xMajorTicks.forEach(f=>{
  const x=xs(f);
  tick(x,PB,x,PB-21,3,'x-major-tick');
  tick(x,PT,x,PT+21,3,'x-major-tick');
  const t=mk('text',{x:(x-8).toFixed(1),y:1094,'font-size':56,'text-anchor':'middle'},axes);
  
  
  t.textContent='10';
  const s=mk('tspan',{dy:-27,'font-size':39},t);
  s.textContent=String(Math.round(Math.log10(f)));
});
xMinorTicks.forEach(f=>{
  const x=xs(f);
  tick(x,PB,x,PB-12,2.2,'x-minor-tick');
  tick(x,PT,x,PT+12,2.2,'x-minor-tick');
});
</script>
</body></html>
